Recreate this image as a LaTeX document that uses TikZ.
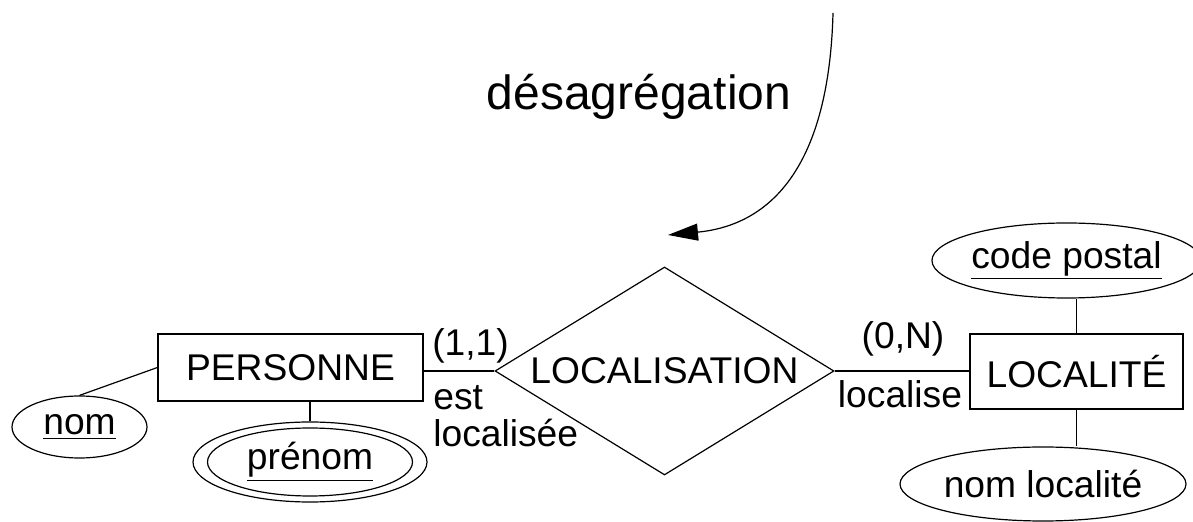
\documentclass[tikz,border=0pt]{standalone}
\usepackage{fontspec}
\setmainfont{Liberation Sans}
\usetikzlibrary{shapes.geometric, arrows.meta}

\begin{document}
\begin{tikzpicture}[x=0.5pt, y=-0.5pt,
    font=\fontsize{18.6pt}{18.5pt}\selectfont,
    entityBox/.style={draw=borderColour, line width=0.6pt, rectangle, inner sep=0pt},
    relationDiamond/.style={draw=borderColour, line width=0.6pt, diamond, aspect=1.63, inner sep=0pt},
    attributeOval/.style={draw=borderColour, line width=0.6pt, ellipse, inner sep=0pt},
    linkLine/.style={draw=borderColour, line width=0.6pt},
    cardLabel/.style={inner sep=0pt}]

    \definecolor{borderColour}{HTML}{000000}

    % Fix the page size
    \useasboundingbox (0,0) rectangle (1193,522);

    % Draw the entities
    \node[entityBox, minimum width=132.5pt, minimum height=33.5pt] (personne) at (290.5,367.5) {PERSONNE};
    \node[entityBox, minimum width=106.5pt, minimum height=37.5pt] (localite) at (1076.5,371.5) {LOCALITÉ};

    % Draw the relation
    \node[relationDiamond, minimum width=169.5pt, minimum height=104pt] (localisation) at (664.5,371) {LOCALISATION};

    % Draw the attributes
    \node[attributeOval, minimum width=67.5pt, minimum height=31pt] (nom) at (79.5,427) {\underline{nom}};
    \node[attributeOval, minimum width=117pt, minimum height=40pt] (prenom) at (310,462) {\underline{prénom}};
    \draw[linkLine] (prenom.center) ellipse [x radius=51.25pt, y radius=17pt];
    \node[attributeOval, minimum width=124.5pt, minimum height=37.5pt] (codePostal) at (1066.5,260.5) {\underline{code postal}};
    \node[attributeOval, minimum width=143pt, minimum height=37pt] (nomLocalite) at (1043,484) {nom localité};

    % Link the attributes
    \draw[linkLine] (nom.north) -- (personne.west);
    \draw[linkLine] (prenom.north) -- (prenom.north |- personne.south);
    \draw[linkLine] (localite.north) -- (localite.north |- codePostal.south);
    \draw[linkLine] (localite.south) -- (localite.south |- nomLocalite.north);

    % Link the relation
    \draw[linkLine] (personne.east |- localisation.west) -- (localisation.west);
    \draw[linkLine] (localisation.east) -- (localisation.east -| localite.west);

    % Cardinalities and roles
    \node[cardLabel] (cardPersonne) at (470.5,346) {(1,1)};
    \node[cardLabel, anchor=base west, align=left] (rolePersonne) at (433,447) {est\\localisée};
    \node[cardLabel] (cardLocalite) at (903,339) {(0,N)};
    \node[cardLabel, anchor=base] (roleLocalite) at (900,408) {localise};

    % Transformation arrow
    \node[cardLabel, anchor=base, font=\fontsize{24pt}{28pt}\selectfont] (transfo) at (639,110) {désagrégation};
    \coordinate (arrowStart) at (833,13);
    \coordinate (arrowEnd) at (668,235);
    \draw[linkLine, -{Triangle[length=15pt, width=8.5pt]}] (arrowStart) .. controls (829,165) and (772,225) .. (arrowEnd);

\end{tikzpicture}
\end{document}
